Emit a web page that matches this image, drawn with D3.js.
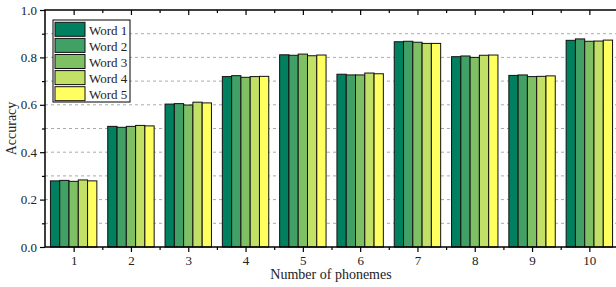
<!DOCTYPE html>
<html>
<head>
<meta charset="utf-8">
<script src="https://cdn.jsdelivr.net/npm/d3@7"></script>
<style>
  html, body { margin: 0; padding: 0; background: #fff; overflow: hidden; }
  text { font-family: "Times New Roman", "Liberation Serif", Times, serif; fill: #222; }
</style>
</head>
<body>
<div id="chart"></div>
<script>
const categories = [1, 2, 3, 4, 5, 6, 7, 8, 9, 10];
const seriesNames = ['Word 1', 'Word 2', 'Word 3', 'Word 4', 'Word 5'];
const word1 = [0.279, 0.509, 0.603, 0.719, 0.811, 0.729, 0.866, 0.803, 0.724, 0.872];
const word2 = [0.281, 0.505, 0.605, 0.723, 0.809, 0.726, 0.868, 0.806, 0.726, 0.878];
const word3 = [0.277, 0.509, 0.599, 0.716, 0.814, 0.726, 0.864, 0.800, 0.719, 0.868];
const word4 = [0.283, 0.513, 0.611, 0.719, 0.807, 0.734, 0.859, 0.809, 0.720, 0.869];
const word5 = [0.279, 0.511, 0.608, 0.720, 0.810, 0.731, 0.859, 0.810, 0.722, 0.873];
const yTicks = [0.0, 0.2, 0.4, 0.6, 0.8, 1.0];
const yMinorTicks = [0.1, 0.3, 0.5, 0.7, 0.9];

const seriesValues = [word1, word2, word3, word4, word5];
const COLORS = ['#00805f', '#40a066', '#80c064', '#c2e066', '#ffff60'];
const FONT = '"Times New Roman", "Liberation Serif", Times, serif';

const width = 616, height = 287;
const MARGIN = { top: 10, left: 45 };
const innerW = 573; // right frame falls just outside the window, as in the picture
const innerH = 237;

const svg = d3.select('#chart').append('svg')
  .attr('width', width)
  .attr('height', height);

const g = svg.append('g').attr('transform', `translate(${MARGIN.left},${MARGIN.top})`);

const x = d3.scaleLinear().domain([0.5, 10.5]).range([0, innerW]);
const y = d3.scaleLinear().domain([0, 1]).range([innerH, 0]);
const groupW = (x(2) - x(1)) * 0.81;
const xs = d3.scaleBand().domain(seriesNames).range([-groupW / 2, groupW / 2]).padding(0);

// grid
g.append('g').selectAll('line')
  .data(d3.range(1, 10).map((d) => d / 10))
  .join('line')
  .attr('x1', 0).attr('x2', innerW)
  .attr('y1', (d) => y(d)).attr('y2', (d) => y(d))
  .attr('stroke', '#aaa')
  .attr('stroke-width', 1)
  .attr('stroke-dasharray', '3,3');

// bars
const groups = g.append('g').selectAll('g')
  .data(categories)
  .join('g')
  .attr('transform', (d) => `translate(${x(d)},0)`);

groups.selectAll('rect')
  .data((c, i) => seriesNames.map((s, k) => ({ s, k, v: seriesValues[k][i] })))
  .join('rect')
  .attr('x', (d) => xs(d.s))
  .attr('width', xs.bandwidth())
  .attr('y', (d) => y(d.v))
  .attr('height', (d) => innerH - y(d.v))
  .attr('fill', (d) => COLORS[d.k])
  .attr('stroke', '#111')
  .attr('stroke-width', 1);

// axes
const minorX = d3.range(1.5, 10.5, 1);
function styleAxis(sel) {
  sel.select('.domain').remove();
  sel.selectAll('line').attr('stroke', '#000').attr('stroke-width', 1.2);
  sel.selectAll('text')
    .style('font-family', FONT)
    .style('font-size', '13px')
    .attr('fill', '#222');
}

g.append('g').attr('transform', `translate(0,${innerH})`)
  .call(d3.axisBottom(x).tickValues(categories).tickSize(5).tickPadding(4).tickFormat(d3.format('d')))
  .call(styleAxis);
g.append('g').attr('transform', `translate(0,${innerH})`)
  .call(d3.axisBottom(x).tickValues(minorX).tickSize(3).tickFormat(''))
  .call(styleAxis);

g.append('g').call(d3.axisTop(x).tickValues(categories).tickSize(-5).tickFormat(''))
  .call(styleAxis);
g.append('g').call(d3.axisTop(x).tickValues(minorX).tickSize(-3).tickFormat(''))
  .call(styleAxis);

g.append('g')
  .call(d3.axisLeft(y).tickValues(yTicks).tickSize(5).tickPadding(3).tickFormat(d3.format('.1f')))
  .call(styleAxis);
g.append('g')
  .call(d3.axisLeft(y).tickValues(yMinorTicks).tickSize(3).tickFormat(''))
  .call(styleAxis);

// frame
g.append('rect')
  .attr('width', innerW).attr('height', innerH)
  .attr('fill', 'none')
  .attr('stroke', '#000')
  .attr('stroke-width', 1.5);

// titles
svg.append('text')
  .attr('transform', `translate(16,${MARGIN.top + innerH / 2}) rotate(-90)`)
  .attr('text-anchor', 'middle')
  .style('font-family', FONT)
  .style('font-size', '14px')
  .text('Accuracy');

svg.append('text')
  .attr('x', 331).attr('y', 279)
  .attr('text-anchor', 'middle')
  .style('font-family', FONT)
  .style('font-size', '14px')
  .text('Number of phonemes');

// legend
const legend = svg.append('g').attr('transform', 'translate(53,20)');
legend.append('rect')
  .attr('width', 77).attr('height', 82)
  .attr('fill', '#fff')
  .attr('stroke', '#000')
  .attr('stroke-width', 1);
const rows = legend.selectAll('g.row')
  .data(seriesNames)
  .join('g')
  .attr('class', 'row')
  .attr('transform', (d, i) => `translate(2,${2.3 + i * 16.1})`);
rows.append('rect')
  .attr('width', 30).attr('height', 14)
  .attr('fill', (d, i) => COLORS[i])
  .attr('stroke', '#111')
  .attr('stroke-width', 1);
rows.append('text')
  .attr('x', 34).attr('y', 12.5)
  .style('font-family', FONT)
  .style('font-size', '13px')
  .text((d) => d);
</script>
</body>
</html>
